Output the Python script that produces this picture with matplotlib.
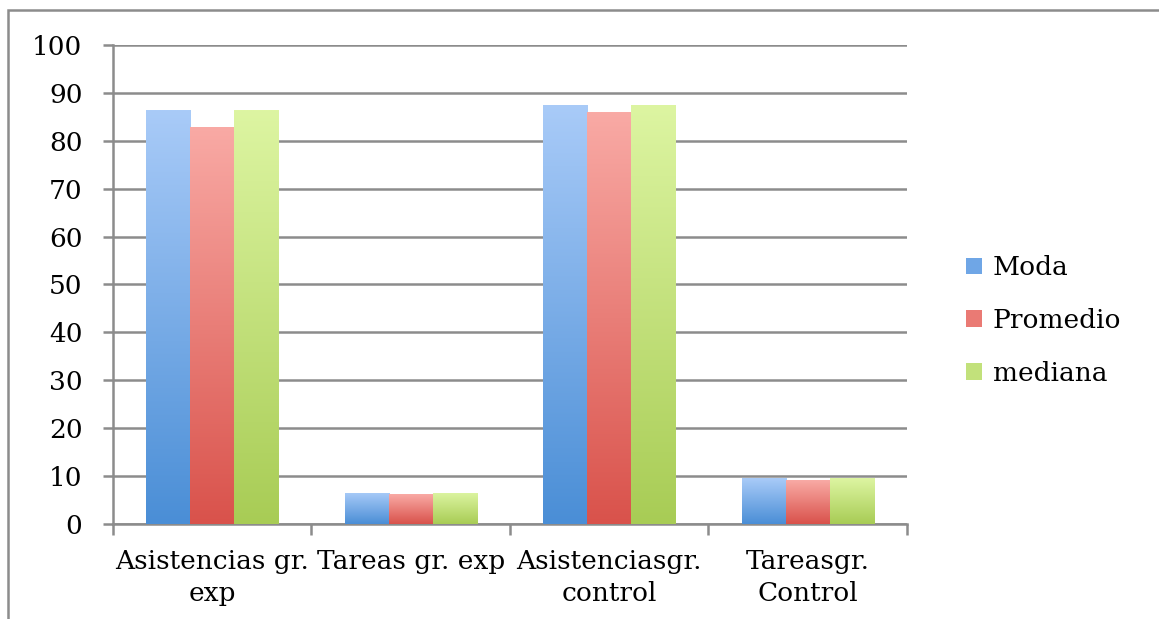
import matplotlib
matplotlib.use("Agg")
import matplotlib.pyplot as plt
import numpy as np
from matplotlib.colors import LinearSegmentedColormap
from matplotlib.patches import Rectangle, Patch

categories = ["Asistencias gr.\nexp", "Tareas gr. exp", "Asistenciasgr.\ncontrol", "Tareasgr.\nControl"]
series_names = ["Moda", "Promedio", "mediana"]
moda = [86.4, 6.5, 87.5, 9.6]
promedio = [82.9, 6.2, 86.0, 9.1]
mediana = [86.4, 6.5, 87.5, 9.6]
values = [moda, promedio, mediana]

# (top colour, bottom colour) for each series gradient
grads = [("#a9cbf8", "#4a8ed6"), ("#f9aaa5", "#d9524b"), ("#ddf5a2", "#a8cc55")]
mids = ["#6fa6e6", "#ea7a74", "#c2e17b"]

plt.rcParams["font.family"] = "DejaVu Serif"
fig = plt.figure(figsize=(11.59, 6.19), dpi=100)
ax = fig.add_axes([0.0975, 0.1535, 0.685, 0.7738])

grid_c = "#8c8c8c"
x = np.arange(len(categories))
w = 0.222
for i, (vals, (top, bot)) in enumerate(zip(values, grads)):
    bars = ax.bar(x + (i - 1) * w, vals, width=w, color=mids[i], zorder=3, linewidth=0)
    cmap = LinearSegmentedColormap.from_list("g%d" % i, [bot, top])
    grad = np.linspace(0, 1, 256).reshape(-1, 1)
    for b in bars:
        x0, bw, bh = b.get_x(), b.get_width(), b.get_height()
        im = ax.imshow(grad, cmap=cmap, origin="lower", aspect="auto",
                       extent=(x0, x0 + bw, 0, bh), zorder=4)
        im.set_clip_path(b)

ax.set_xlim(-0.5, len(categories) - 0.5)
ax.set_ylim(0, 100)
ax.set_yticks(np.arange(0, 101, 10))
ax.yaxis.grid(True, color=grid_c, linewidth=1.8, zorder=0)
ax.set_axisbelow(True)
ax.tick_params(axis="y", length=7, width=1.8, color=grid_c, labelsize=19, pad=15)

ax.set_xticks(x)
ax.set_xticklabels(categories, fontsize=19, linespacing=1.35)
ax.set_xticks(np.arange(-0.5, len(categories), 1), minor=True)
ax.tick_params(axis="x", which="major", length=0, pad=18)
ax.tick_params(axis="x", which="minor", length=8, width=1.8, color=grid_c)

for s in ["top", "right"]:
    ax.spines[s].set_visible(False)
for s in ["left", "bottom"]:
    ax.spines[s].set_color(grid_c)
    ax.spines[s].set_linewidth(1.8)

handles = [Patch(facecolor=c, edgecolor="none") for c in mids]
ax.legend(handles, series_names, loc="center left", bbox_to_anchor=(1.045, 0.425),
          frameon=False, fontsize=19, handlelength=0.6, handleheight=0.6,
          handletextpad=0.4, labelspacing=1.05)

fig.patches.append(Rectangle((8 / 1159, -0.5), 2, 1.5 - 10 / 619, transform=fig.transFigure,
                             fill=False, edgecolor=grid_c, linewidth=1.8))

fig.savefig("out.png", dpi=100)
